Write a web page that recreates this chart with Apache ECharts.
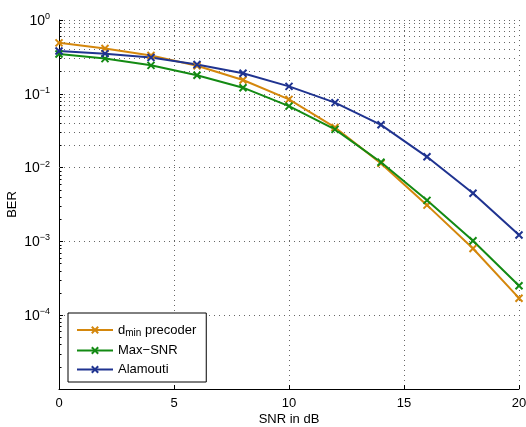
<!DOCTYPE html>
<html>
<head>
<meta charset="utf-8">
<script src="https://cdn.jsdelivr.net/npm/echarts@6/dist/echarts.min.js"></script>
<style>
html,body{margin:0;padding:0;background:#fff;}
#chart{width:526px;height:427px;}
</style>
</head>
<body>
<div id="chart"></div>
<script>
// data
var snr = [0, 2, 4, 6, 8, 10, 12, 14, 16, 18, 20];
var berDmin = [0.49, 0.41, 0.33, 0.24, 0.154, 0.084, 0.035, 0.0114, 0.0031, 0.00080, 0.00017];
var berMaxSnr = [0.346, 0.30, 0.243, 0.178, 0.121, 0.068, 0.033, 0.0118, 0.0036, 0.00102, 0.00025];
var berAlamouti = [0.38, 0.35, 0.31, 0.25, 0.19, 0.126, 0.076, 0.038, 0.014, 0.0045, 0.00122];
var seriesNames = ['d_min precoder', 'Max-SNR', 'Alamouti'];
var decades = [1e-5, 1e-4, 1e-3, 1e-2, 1e-1];
var minorSteps = [2, 3, 4, 5, 6, 7, 8, 9];

var FONT = '"Liberation Sans", Arial, sans-serif';
var colors = ['#d4870c', '#138a13', '#1f3390'];
var dotted = {color: '#666', width: 1, type: [1, 4]};

function pairs(ys){
	return snr.map(function(x, i){ return [x, ys[i]]; });
}

// minor levels of the log axis (grid + ticks)
var minorVals = [];
decades.forEach(function(d){
	minorSteps.forEach(function(m){ minorVals.push(d * m); });
});

var gridLines = minorVals.map(function(v){ return {yAxis: v}; });
var minorTicks = minorVals.map(function(v){
	return [{coord: [0, v]}, {coord: [0.11, v]}];
});

var xSymbol = 'path://M0,0L10,10M10,0L0,10';

function lineSeries(name, ys, color){
	return {
		name: name,
		type: 'line',
		data: pairs(ys),
		symbol: xSymbol,
		symbolSize: 7,
		lineStyle: {color: color, width: 2},
		itemStyle: {color: color, borderColor: color, borderWidth: 2},
		z: 5
	};
}

var chart = echarts.init(document.getElementById('chart'), null, {renderer: 'canvas'});

var option = {
	animation: false,
	grid: {left: 59, right: 7, top: 20, bottom: 38, containLabel: false, outerBoundsMode: 'none'},
	legend: {
		left: 68,
		top: 313,
		orient: 'vertical',
		backgroundColor: '#fff',
		borderColor: '#000',
		borderWidth: 1,
		borderRadius: 0,
		padding: [6, 10, 6, 8],
		itemWidth: 36,
		itemHeight: 8,
		itemGap: 6,
		data: seriesNames,
		formatter: function(name){
			if (name === 'd_min precoder') return '{a|d}{s|min}{a| precoder}';
			return '{a|' + name.replace('-', '\u2212') + '}';
		},
		textStyle: {
			fontFamily: FONT,
			fontSize: 13,
			color: '#000',
			rich: {
				a: {fontFamily: FONT, fontSize: 13, color: '#000', lineHeight: 16},
				s: {fontFamily: FONT, fontSize: 10, color: '#000', verticalAlign: 'bottom', lineHeight: 12, padding: [9, 0, 0, 0]}
			}
		}
	},
	xAxis: {
		type: 'value',
		min: 0,
		max: 20,
		interval: 5,
		name: 'SNR in dB',
		nameLocation: 'middle',
		nameGap: 24,
		nameMoveOverlap: false,
		nameTextStyle: {fontFamily: FONT, fontSize: 13, color: '#000'},
		axisLine: {lineStyle: {color: '#000', width: 1}},
		axisTick: {inside: true, length: 4, lineStyle: {color: '#000'}},
		axisLabel: {fontFamily: FONT, fontSize: 13, color: '#000', margin: 8},
		splitLine: {show: true, lineStyle: dotted}
	},
	yAxis: {
		type: 'log',
		logBase: 10,
		min: 1e-5,
		max: 1,
		name: 'BER',
		nameLocation: 'middle',
		nameGap: 40,
		nameMoveOverlap: false,
		nameTextStyle: {fontFamily: FONT, fontSize: 13, color: '#000'},
		axisLine: {show: true, lineStyle: {color: '#000', width: 1}},
		axisTick: {inside: true, length: 4, lineStyle: {color: '#000'}},
		axisLabel: {
			margin: 9,
			formatter: function(v){
				var e = Math.round(Math.log(v) / Math.LN10);
				if (e <= -5) return '';
				var es = e < 0 ? '\u2212' + (-e) : '' + e;
				return '{b|10}{s|' + es + '}';
			},
			rich: {
				b: {fontFamily: FONT, fontSize: 14, color: '#000', lineHeight: 16, verticalAlign: 'bottom', padding: [4, 0, 0, 0]},
				s: {fontFamily: FONT, fontSize: 9, color: '#000', lineHeight: 16, verticalAlign: 'top'}
			}
		},
		splitLine: {show: true, lineStyle: dotted}
	},
	series: [
		lineSeries(seriesNames[0], berDmin, colors[0]),
		lineSeries(seriesNames[1], berMaxSnr, colors[1]),
		lineSeries(seriesNames[2], berAlamouti, colors[2]),
		{
			name: 'grid',
			type: 'line',
			data: [],
			silent: true,
			markLine: {
				silent: true,
				symbol: 'none',
				animation: false,
				label: {show: false},
				lineStyle: dotted,
				data: gridLines
			}
		},
		{
			name: 'ticks',
			type: 'line',
			data: [],
			silent: true,
			z: 6,
			markLine: {
				silent: true,
				symbol: 'none',
				animation: false,
				label: {show: false},
				lineStyle: {color: '#000', width: 1, type: 'solid'},
				data: minorTicks
			}
		}
	]
};
chart.setOption(option);

window.addEventListener('resize', function(){
	chart.resize();
});
</script>
</body>
</html>
